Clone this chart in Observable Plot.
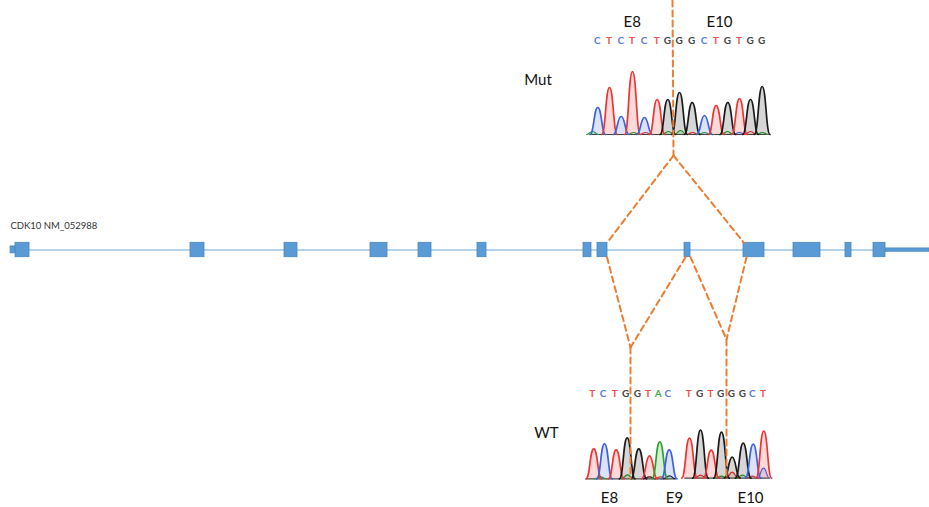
<!DOCTYPE html>
<html>
<head>
<meta charset="utf-8">
<script src="https://cdn.jsdelivr.net/npm/d3@7"></script>
<script src="https://cdn.jsdelivr.net/npm/@observablehq/plot@0.6"></script>
<style>
  html, body { margin: 0; padding: 0; background: #fff; }
  #chart svg { display: block; }
</style>
</head>
<body>
<div id="chart"></div>
<script>
// ---- Gene model (position along transcript, diagram units) ----
const geneLabel = "CDK10 NM_052988";
const exonStarts = [15, 190, 284, 370, 418, 477, 583, 597, 684, 743, 793, 845, 873];
const exonEnds   = [29, 204, 297, 387, 431, 486, 591, 607, 690, 764, 820, 851, 885];
const utr5 = [10, 15];
const utr3 = [885, 929];
const geneSpan = [10, 929];

// ---- Mutant chromatogram ----
const mutBases = ["C","T","C","T","C","T","G","G","G","C","T","G","T","G","G"];
const mutPos   = [597.3, 609, 620.7, 632, 644, 656.7, 667.3, 679, 691.7, 704, 715.7, 727.3, 739, 750, 761.7];
const mutHeight= [27, 47, 18, 63, 17, 35, 35, 42, 32, 19, 29, 32, 36, 35, 48];
const mutNoiseBase = ["A","A","T","A","A","T","A","A","C","T","A"];
const mutNoisePos  = [592, 633, 645, 668, 680, 692, 704, 727, 739, 750, 762];
const mutNoiseH    = [3, 2, 2, 3, 4, 2, 2, 3, 2, 3, 2];

// ---- Wild-type chromatograms (E8/E9 and E9/E10 junctions) ----
const wt1Bases = ["T","C","T","G","G","T","A","C"];
const wt1Pos   = [593.3, 604, 615.7, 626.7, 638.3, 649, 659.3, 668.7];
const wt1Height= [30, 35, 29, 41, 30, 23, 37, 29];
const wt1NoiseBase = ["A","A","G","T","G"];
const wt1NoisePos  = [600, 627, 649, 660, 669];
const wt1NoiseH    = [2, 4, 2, 2, 3];

const wt2Bases = ["T","G","T","G","G","G","C","T"];
const wt2Pos   = [689, 700, 710.7, 721, 731.7, 742.7, 752.7, 763.3];
const wt2Height= [40, 48, 28, 46, 21, 35, 34, 47];
const wt2NoiseBase = ["T","A","T","A","C","T"];
const wt2NoisePos  = [700, 721, 731.7, 742, 763, 752];
const wt2NoiseH    = [3, 2, 6, 3, 10, 2];

// ---- Labels ----
const exonLabels = ["E8", "E10", "E8", "E9", "E10"];
const sampleLabels = ["Mut", "WT"];

// ---- Layout / styles (not data) ----
const W = 929, H = 507;
const geneY = 249.5, exonHalf = 7.2;
const mutBaseY = 134, wt1BaseY = 478.3, wt2BaseY = 477.7;
const halfW = 7.8;
const traceColor = {A: "#2ca02c", C: "#3b63e0", G: "#1a1a1a", T: "#ee3333"};
const letterColor = {A: "#3cb043", C: "#5a7be0", G: "#444444", T: "#f05050"};
const orange = "#ed7d31";

function peaks(id, bases, pos, hts, base, hw) {
  const out = [];
  bases.forEach((b, i) => {
    const x = pos[i], h = hts[i];
    [[x - hw, 0], [x, h], [x + hw, 0]].forEach(([px, ph]) =>
      out.push({id: id + i, x: px, y1: base, y2: base - ph, color: traceColor[b]}));
  });
  return out;
}
const peakData = [
  ...peaks("m", mutBases, mutPos, mutHeight, mutBaseY, halfW),
  ...peaks("w1", wt1Bases, wt1Pos, wt1Height, wt1BaseY, halfW),
  ...peaks("w2", wt2Bases, wt2Pos, wt2Height, wt2BaseY, halfW)
];
const noiseData = [
  ...peaks("mn", mutNoiseBase, mutNoisePos, mutNoiseH, mutBaseY, 6),
  ...peaks("w1n", wt1NoiseBase, wt1NoisePos, wt1NoiseH, wt1BaseY, 6),
  ...peaks("w2n", wt2NoiseBase, wt2NoisePos, wt2NoiseH, wt2BaseY, 6)
];

const letters = [
  ...mutBases.map((b, i) => ({x: mutPos[i] - 0.5, y: 40.5, b})),
  ...wt1Bases.map((b, i) => ({x: wt1Pos[i] - 1.5, y: 393.5, b})),
  ...wt2Bases.map((b, i) => ({x: wt2Pos[i] - 0.8, y: 393.5, b}))
];

const baselines = [
  {x1: 590.7, x2: 769.3, y: mutBaseY},
  {x1: 585.7, x2: 675, y: wt1BaseY},
  {x1: 684.3, x2: 769.3, y: wt2BaseY}
];

const exons = exonStarts.map((s, i) => ({x1: s, x2: exonEnds[i]}));

// splice paths (dashed), anchored on exon edges
const e8 = 7, e9 = 8, e10 = 9;
const mutApex = {x: 673, y: 155};
const wtJ1 = {x: 630, y: 347};
const wtJ2 = {x: 726, y: 339};
const dashed = [
  {k: "a", x: 672, y: 0}, {k: "a", x: mutApex.x, y: mutApex.y},
  {k: "b", x: mutApex.x, y: mutApex.y}, {k: "b", x: exonEnds[e8] - 0.5, y: geneY - exonHalf},
  {k: "c", x: mutApex.x, y: mutApex.y}, {k: "c", x: exonStarts[e10] + 0.5, y: geneY - exonHalf},
  {k: "d", x: exonEnds[e8] - 0.5, y: geneY + exonHalf}, {k: "d", x: wtJ1.x, y: wtJ1.y},
  {k: "e", x: exonStarts[e9] + 1, y: geneY + exonHalf}, {k: "e", x: wtJ1.x, y: wtJ1.y},
  {k: "f", x: wtJ1.x, y: wtJ1.y}, {k: "f", x: wtJ1.x, y: wt1BaseY},
  {k: "g", x: exonEnds[e9], y: geneY + exonHalf}, {k: "g", x: wtJ2.x, y: wtJ2.y},
  {k: "h", x: exonStarts[e10] + 3, y: geneY + exonHalf}, {k: "h", x: wtJ2.x, y: wtJ2.y},
  {k: "i", x: wtJ2.x, y: wtJ2.y}, {k: "i", x: wtJ2.x, y: wt2BaseY}
];

const bigText = [
  {t: exonLabels[0], x: 631.7, y: 21.5},
  {t: exonLabels[1], x: 719, y: 21.5},
  {t: exonLabels[2], x: 609, y: 498},
  {t: exonLabels[3], x: 674, y: 498},
  {t: exonLabels[4], x: 750, y: 498},
  {t: sampleLabels[0], x: 537.5, y: 79.5},
  {t: sampleLabels[1], x: 546, y: 433}
];

const font = "Lato, 'Open Sans', sans-serif";

const chart = Plot.plot({
  width: W, height: H,
  margin: 0,
  x: {domain: [0, W], range: [0, W], axis: null},
  y: {domain: [0, H], range: [0, H], axis: null},
  style: {fontFamily: font, background: "#fff"},
  marks: [
    // intron backbone
    Plot.ruleY([geneY], {x1: geneSpan[0], x2: geneSpan[1], stroke: "#9dc3e6", strokeWidth: 1.6}),
    // UTRs
    Plot.rect([utr5], {x1: d => d[0], x2: d => d[1], y1: geneY - 3.6, y2: geneY + 3.4, fill: "#5b9bd5", stroke: "#4a86bf", strokeWidth: 0.7}),
    Plot.rect([utr3], {x1: d => d[0], x2: d => d[1], y1: geneY - 1.6, y2: geneY + 1.8, fill: "#5b9bd5", stroke: "#4a86bf", strokeWidth: 0.7}),
    // exons
    Plot.rect(exons, {x1: "x1", x2: "x2", y1: geneY - exonHalf, y2: geneY + exonHalf, fill: "#5b9bd5", stroke: "#4a86bf", strokeWidth: 0.8}),
    // gene name
    Plot.text([geneLabel], {x: geneSpan[0], y: 225, text: d => d, textAnchor: "start", fontSize: 9.5, fill: "#333"}),
    // chromatogram baselines
    Plot.ruleY(baselines, {x1: "x1", x2: "x2", y: "y", stroke: "#444", strokeWidth: 1.2}),
    // noise traces
    Plot.areaY(noiseData, {x: "x", y1: "y1", y2: "y2", z: "id", fill: "color", fillOpacity: 0.15, curve: "bump-x"}),
    Plot.line(noiseData, {x: "x", y: "y2", z: "id", stroke: "color", strokeWidth: 1.2, curve: "bump-x"}),
    // main traces
    Plot.areaY(peakData, {x: "x", y1: "y1", y2: "y2", z: "id", fill: "color", fillOpacity: 0.18, curve: "bump-x"}),
    Plot.line(peakData, {x: "x", y: "y2", z: "id", stroke: "color", strokeWidth: 1.7, curve: "bump-x"}),
    // base calls
    Plot.text(letters, {x: "x", y: "y", text: "b", fill: d => letterColor[d.b], fontSize: 10, fontWeight: 700, textAnchor: "middle", lineAnchor: "middle"}),
    // splice paths
    Plot.line(dashed, {x: "x", y: "y", z: "k", stroke: orange, strokeWidth: 2, strokeDasharray: "6,4", curve: "linear"}),
    // labels
    Plot.text(bigText, {x: "x", y: "y", text: "t", fontSize: 15, fill: "#111", textAnchor: "middle", lineAnchor: "middle"})
  ]
});
document.getElementById("chart").appendChild(chart);
</script>
</body>
</html>
